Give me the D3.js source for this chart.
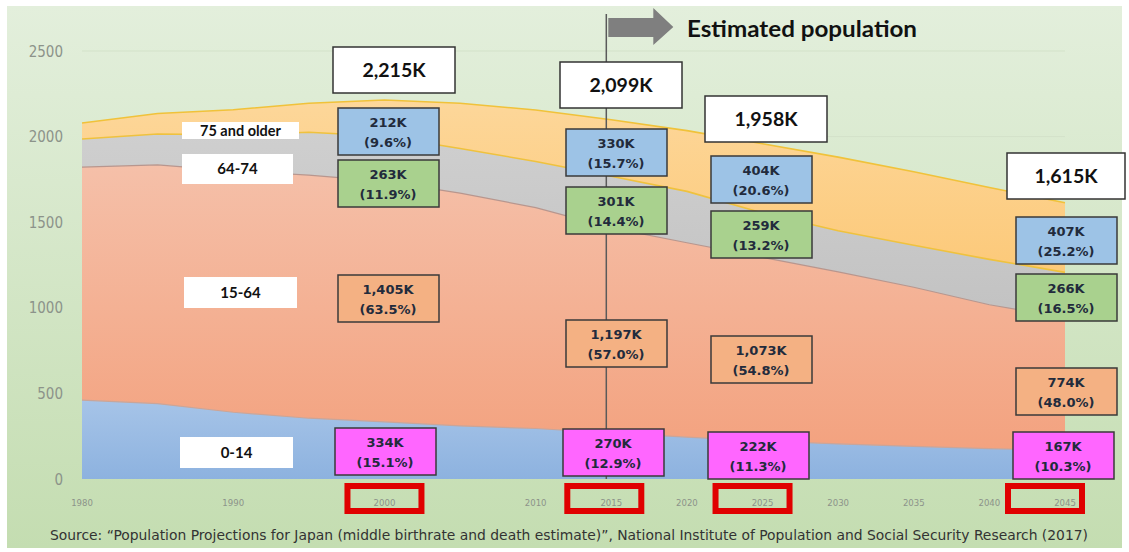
<!DOCTYPE html>
<html>
<head>
<meta charset="utf-8">
<script src="https://cdn.jsdelivr.net/npm/d3@7"></script>
<style>
  body { margin: 0; background: #fff; }
  svg { display: block; }
</style>
</head>
<body>
<div id="viz"></div>
<script>
// population by age group, thousands (5-year steps)
var years    = [1980, 1985, 1990, 1995, 2000, 2005, 2010, 2015, 2020, 2025, 2030, 2035, 2040, 2045];
var age0_14  = [461, 440, 390, 355, 334, 310, 295, 270, 245, 222, 205, 190, 178, 167];
var age15_64 = [1361, 1395, 1410, 1420, 1405, 1360, 1290, 1197, 1135, 1073, 1005, 930, 840, 774];
var age65_74 = [164, 180, 210, 250, 263, 260, 270, 301, 300, 259, 240, 245, 265, 266];
var age75    = [93, 120, 147, 170, 212, 265, 300, 330, 355, 404, 430, 430, 420, 407];

// highlighted years
var labelYears = [2000, 2015, 2025, 2045];
var totals     = ["2,215K", "2,099K", "1,958K", "1,615K"];
var val75      = ["212K", "330K", "404K", "407K"];
var pct75      = ["(9.6%)", "(15.7%)", "(20.6%)", "(25.2%)"];
var val65      = ["263K", "301K", "259K", "266K"];
var pct65      = ["(11.9%)", "(14.4%)", "(13.2%)", "(16.5%)"];
var val15      = ["1,405K", "1,197K", "1,073K", "774K"];
var pct15      = ["(63.5%)", "(57.0%)", "(54.8%)", "(48.0%)"];
var val0       = ["334K", "270K", "222K", "167K"];
var pct0       = ["(15.1%)", "(12.9%)", "(11.3%)", "(10.3%)"];

var groupNames = ["75 and older", "64-74", "15-64", "0-14"];
var xTicks = [1980, 1990, 2000, 2010, 2015, 2020, 2025, 2030, 2035, 2040, 2045];
var yTicks = [0, 500, 1000, 1500, 2000, 2500];

var width = 1129, height = 552;
var svg = d3.select("#viz").append("svg").attr("width", width).attr("height", height);

var x = d3.scaleLinear().domain([1980, 2045]).range([82, 1065]);
var y = d3.scaleLinear().domain([0, 2500]).range([479, 51]);

var defs = svg.append("defs");
function vgrad(id, c0, c1){
  var g = defs.append("linearGradient").attr("id", id)
      .attr("x1", 0).attr("y1", 0).attr("x2", 0).attr("y2", 1);
  g.append("stop").attr("offset", "0%").attr("stop-color", c0);
  g.append("stop").attr("offset", "100%").attr("stop-color", c1);
}
vgrad("bg", "#e3efdc", "#c4ddb1");
vgrad("g0", "#a6c4e8", "#8db2df");
vgrad("g1", "#f5c0a9", "#f3a27f");
vgrad("g2", "#cfcfcf", "#c2c2c2");
vgrad("g3", "#fdd79a", "#fcc979");

// background panel
svg.append("rect")
    .attr("x", 7).attr("y", 6)
    .attr("width", 1115).attr("height", 542)
    .attr("fill", "url(#bg)");

// faint gridlines
svg.append("g").selectAll("line")
  .data(yTicks.slice(1))
  .enter().append("line")
    .attr("x1", x(1980)).attr("x2", x(2045))
    .attr("y1", function(d){ return y(d); })
    .attr("y2", function(d){ return y(d); })
    .attr("stroke", "#d3e2c9")
    .attr("stroke-width", 1);

// stacked areas
var rows = years.map(function(yr, i){
  return { year: yr, a0: age0_14[i], a1: age15_64[i], a2: age65_74[i], a3: age75[i] };
});
var keys = ["a0", "a1", "a2", "a3"];
var fills = ["url(#g0)", "url(#g1)", "url(#g2)", "url(#g3)"];
var edges = ["#c9a59a", "#b8968e", "#efc23e", "#f0c23a"];
var series = d3.stack().keys(keys)(rows);

var area = d3.area()
    .x(function(d){ return x(d.data.year); })
    .y0(function(d){ return y(d[0]); })
    .y1(function(d){ return y(d[1]); });

var topLine = d3.line()
    .x(function(d){ return x(d.data.year); })
    .y(function(d){ return y(d[1]); });

svg.append("g").selectAll("path")
  .data(series)
  .enter().append("path")
    .attr("d", area)
    .attr("fill", function(d, i){ return fills[i]; });

svg.append("g").selectAll("path")
  .data(series)
  .enter().append("path")
    .attr("d", topLine)
    .attr("fill", "none")
    .attr("stroke", function(d, i){ return edges[i]; })
    .attr("stroke-width", function(d, i){ return i >= 2 ? 1.6 : 1.2; });

// y axis labels
svg.append("g").selectAll("text")
  .data(yTicks)
  .enter().append("text")
    .attr("x", 63)
    .attr("y", function(d){ return y(d) + 5.5; })
    .attr("text-anchor", "end")
    .style("font-family", "'DejaVu Sans Condensed', 'DejaVu Sans', sans-serif")
    .style("font-stretch", "condensed")
    .style("font-size", "15px")
    .attr("fill", "#8c938a")
    .text(function(d){ return d; });

// x axis labels
svg.append("g").selectAll("text")
  .data(xTicks)
  .enter().append("text")
    .attr("x", function(d){ return x(d); })
    .attr("y", 506)
    .attr("text-anchor", "middle")
    .style("font-family", "'DejaVu Sans Condensed', 'DejaVu Sans', sans-serif")
    .style("font-stretch", "condensed")
    .style("font-size", "9.5px")
    .attr("fill", "#8c938a")
    .text(function(d){ return d; });

// red highlight frames under the chosen years
var frameShift = [0, -7, -10, -20];
svg.append("g").selectAll("rect")
  .data(labelYears)
  .enter().append("rect")
    .attr("x", function(d, i){ return x(d) + frameShift[i] - 37; })
    .attr("y", 486)
    .attr("width", 74)
    .attr("height", 25)
    .attr("fill", "none")
    .attr("stroke", "#e00000")
    .attr("stroke-width", 6);

// boundary between actual and estimated
svg.append("line")
    .attr("x1", x(2015) - 5).attr("x2", x(2015) - 5)
    .attr("y1", 14).attr("y2", y(0))
    .attr("stroke", "#5a5a5a")
    .attr("stroke-width", 1.5);

var ax = x(2015) - 3;
svg.append("path")
    .attr("d", "M" + ax + ",18 H" + (ax + 45) + " V8 L" + (ax + 65) + ",27 L" + (ax + 45) + ",45 V37 H" + ax + " Z")
    .attr("fill", "#7f7f7f");

svg.append("text")
    .attr("x", 687)
    .attr("y", 37)
    .attr("textLength", 230)
    .attr("lengthAdjust", "spacingAndGlyphs")
    .style("font-family", "Lato, 'Open Sans', sans-serif")
    .style("font-weight", "bold")
    .style("font-size", "23px")
    .attr("fill", "#111")
    .text("Estimated population");

// group name tags
var tagBox = [[182, 122, 117, 17], [182, 154, 111, 30], [184, 277, 113, 31], [180, 437, 113, 31]];
var tags = svg.append("g").selectAll("g")
  .data(groupNames)
  .enter().append("g");
tags.append("rect")
    .attr("x", function(d, i){ return tagBox[i][0]; })
    .attr("y", function(d, i){ return tagBox[i][1]; })
    .attr("width", function(d, i){ return tagBox[i][2]; })
    .attr("height", function(d, i){ return tagBox[i][3]; })
    .attr("fill", "#fff");
tags.append("text")
    .attr("x", function(d, i){ return tagBox[i][0] + tagBox[i][2] / 2; })
    .attr("y", function(d, i){ return tagBox[i][1] + tagBox[i][3] / 2 + 5; })
    .attr("text-anchor", "middle")
    .style("font-family", "Lato, 'Open Sans', sans-serif")
    .style("font-weight", "bold")
    .style("font-size", function(d, i){ return i == 0 ? "14.5px" : "15px"; })
    .attr("fill", "#111")
    .text(function(d){ return d; });

// total boxes
var totalCx = [394, 621, 766, 1068];
var totalTop = [47, 62, 96, 153];
var tot = svg.append("g").selectAll("g")
  .data(totals)
  .enter().append("g");
tot.append("rect")
    .attr("x", function(d, i){ return totalCx[i] - 61; })
    .attr("y", function(d, i){ return totalTop[i]; })
    .attr("width", function(d, i){ return i == 3 ? 118 : 122; })
    .attr("height", 46)
    .attr("fill", "#fff")
    .attr("stroke", "#333")
    .attr("stroke-width", 1.5);
tot.append("text")
    .attr("x", function(d, i){ return totalCx[i] - (i == 3 ? 2 : 0); })
    .attr("y", function(d, i){ return totalTop[i] + 30; })
    .attr("text-anchor", "middle")
    .style("font-family", "Lato, 'Open Sans', sans-serif")
    .style("font-weight", "bold")
    .style("font-size", "19.5px")
    .attr("fill", "#111")
    .text(function(d){ return d; });

// value boxes per age group
var colCx = [388, 616, 761, 1066];
var boxRows = [
  { vals: val75, pcts: pct75, fill: "#9dc3e6", tops: [108, 129, 156, 217], dx: 0 },
  { vals: val65, pcts: pct65, fill: "#a9d18e", tops: [160, 187, 211, 274], dx: 0 },
  { vals: val15, pcts: pct15, fill: "#f4b183", tops: [275, 320, 336, 368], dx: 0 },
  { vals: val0,  pcts: pct0,  fill: "#ff66ff", tops: [428, 429, 432, 432], dx: -3 }
];

boxRows.forEach(function(r){
  var g = svg.append("g").selectAll("g")
    .data(labelYears)
    .enter().append("g");
  g.append("rect")
      .attr("x", function(d, i){ return colCx[i] + r.dx - 50; })
      .attr("y", function(d, i){ return r.tops[i]; })
      .attr("width", 101)
      .attr("height", 47)
      .attr("fill", r.fill)
      .attr("stroke", "#3a3a3a")
      .attr("stroke-width", 1.5);
  g.append("text")
      .attr("x", function(d, i){ return colCx[i] + r.dx; })
      .attr("y", function(d, i){ return r.tops[i] + 19; })
      .attr("text-anchor", "middle")
      .style("font-family", "'DejaVu Sans', sans-serif")
      .style("font-weight", "bold")
      .style("font-size", "13px")
      .attr("fill", "#222b3c")
      .text(function(d, i){ return r.vals[i]; });
  g.append("text")
      .attr("x", function(d, i){ return colCx[i] + r.dx; })
      .attr("y", function(d, i){ return r.tops[i] + 39; })
      .attr("text-anchor", "middle")
      .style("font-family", "'DejaVu Sans', sans-serif")
      .style("font-weight", "bold")
      .style("font-size", "13px")
      .attr("fill", "#222b3c")
      .text(function(d, i){ return r.pcts[i]; });
});

// source note
svg.append("text")
    .attr("x", 50)
    .attr("y", 540)
    .attr("textLength", 1038)
    .attr("lengthAdjust", "spacingAndGlyphs")
    .style("font-family", "'Liberation Sans Narrow', 'DejaVu Sans Condensed', sans-serif")
    .style("font-size", "14px")
    .attr("fill", "#333")
    .text("Source: \u201cPopulation Projections for Japan (middle birthrate and death estimate)\u201d, National Institute of Population and Social Security Research (2017)");
</script>
</body>
</html>
